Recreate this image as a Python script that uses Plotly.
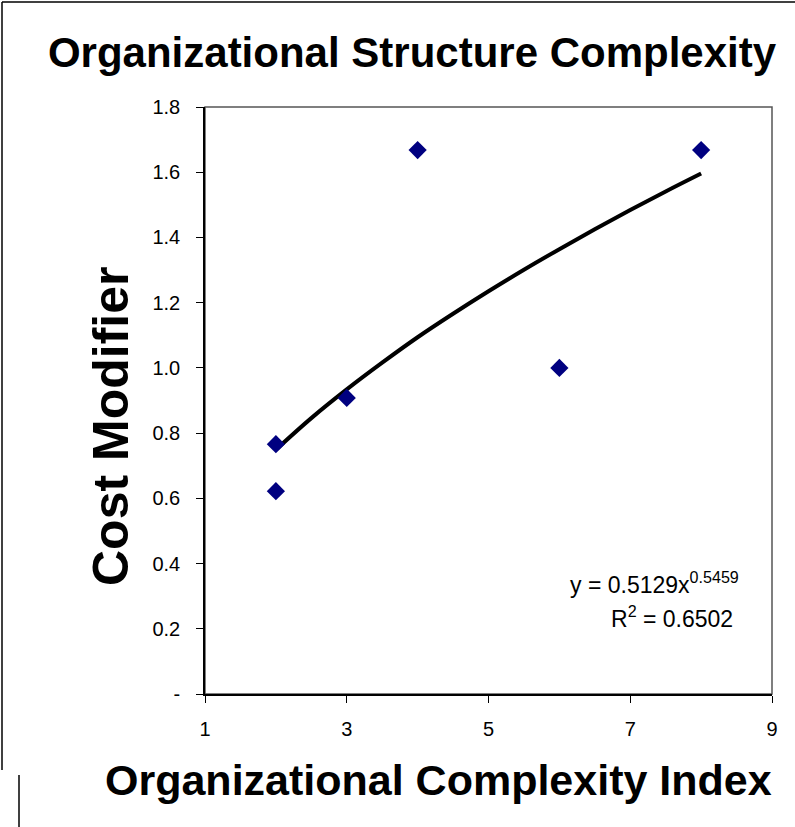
import plotly.graph_objects as go

# observed data points
complexity_index = [2, 2, 3, 4, 6, 8]
cost_modifier = [0.766, 0.622, 0.908, 1.668, 1.0, 1.668]

# power trendline
trend_x = [2, 2.5, 3, 3.5, 4, 4.5, 5, 5.5, 6, 6.5, 7, 7.5, 8]
trend_y = [0.749, 0.846, 0.934, 1.016, 1.094, 1.166, 1.235, 1.301, 1.364, 1.425, 1.484, 1.541, 1.596]

x_ticks = [1, 3, 5, 7, 9]
y_ticks = [0, 0.2, 0.4, 0.6, 0.8, 1.0, 1.2, 1.4, 1.6, 1.8]
y_tick_labels = ["-", "0.2", "0.4", "0.6", "0.8", "1.0", "1.2", "1.4", "1.6", "1.8"]

W, H = 795, 827
L, R, T, B = 205, 23, 107, 133
PW, PH = W - L - R, H - T - B
FONT = "Liberation Sans, Arial, sans-serif"


def px(x):
    return (x - L) / PW


def py(y):
    return (H - B - y) / PH


fig = go.Figure()
fig.add_trace(go.Scatter(
    x=trend_x, y=trend_y, mode="lines", line={"color": "black", "width": 4, "shape": "spline"},
    showlegend=False, hoverinfo="skip",
))
fig.add_trace(go.Scatter(
    x=complexity_index, y=cost_modifier, mode="markers",
    marker={"symbol": "diamond", "size": 14, "color": "#000080"},
    showlegend=False,
))

# plot area frame (grey) and outer chart border
fig.add_shape(type="rect", xref="x domain", yref="y domain", x0=0, x1=1, y0=0, y1=1,
              line={"color": "#555555", "width": 1.5}, layer="below")
fig.add_shape(type="line", xref="paper", yref="paper", x0=px(2), x1=px(2), y0=py(770), y1=py(2),
              line={"color": "black", "width": 1.5})
fig.add_shape(type="line", xref="paper", yref="paper", x0=px(2), x1=px(W), y0=py(2), y1=py(2),
              line={"color": "black", "width": 1.5})
fig.add_shape(type="line", xref="paper", yref="paper", x0=px(19), x1=px(19), y0=py(775), y1=py(H),
              line={"color": "black", "width": 1.5})

fig.add_annotation(text="Cost Modifier", textangle=-90, xref="paper", yref="paper",
                   x=px(111), y=py(427), xanchor="center", yanchor="middle", showarrow=False,
                   font={"family": FONT, "size": 50, "color": "black", "weight": "bold"})
fig.add_annotation(text="Organizational Complexity Index", xref="paper", yref="paper",
                   x=px(438), y=py(780), xanchor="center", yanchor="middle", showarrow=False,
                   font={"family": FONT, "size": 43, "color": "black", "weight": "bold"})
fig.add_annotation(text="y = 0.5129x<sup>0.5459</sup>", xref="paper", yref="paper",
                   x=px(741), y=py(583), xanchor="right", yanchor="middle", showarrow=False,
                   font={"family": FONT, "size": 23, "color": "black"})
fig.add_annotation(text="R<sup>2</sup> = 0.6502", xref="paper", yref="paper",
                   x=px(735), y=py(617), xanchor="right", yanchor="middle", showarrow=False,
                   font={"family": FONT, "size": 23, "color": "black"})

fig.update_layout(
    width=W, height=H,
    margin={"l": L, "r": R, "t": T, "b": B},
    paper_bgcolor="white", plot_bgcolor="white",
    font={"family": FONT, "color": "black"},
    title={"text": "<b>Organizational Structure Complexity</b>", "x": 412 / W, "xanchor": "center",
           "y": 1 - 52 / H, "yanchor": "middle", "xref": "container", "yref": "container",
           "font": {"family": FONT, "size": 42, "color": "black"}},
)
fig.update_xaxes(
    range=[1, 9], tickvals=x_ticks, showgrid=False, zeroline=False,
    showline=True, linecolor="black", linewidth=1.5, ticks="outside", ticklen=7,
    tickcolor="black", tickfont={"size": 20}, ticklabelstandoff=9,
)
fig.update_yaxes(
    range=[0, 1.8], tickvals=y_ticks, ticktext=y_tick_labels, showgrid=False, zeroline=False,
    showline=True, linecolor="black", linewidth=1.5, ticks="outside", ticklen=7,
    tickcolor="black", tickfont={"size": 20}, ticklabelstandoff=12,
)

# the reference chart sits flush with the window's top-left corner
fig.write_html("out.html", config={"displayModeBar": False},
               post_script="document.body.style.margin = '0';")
